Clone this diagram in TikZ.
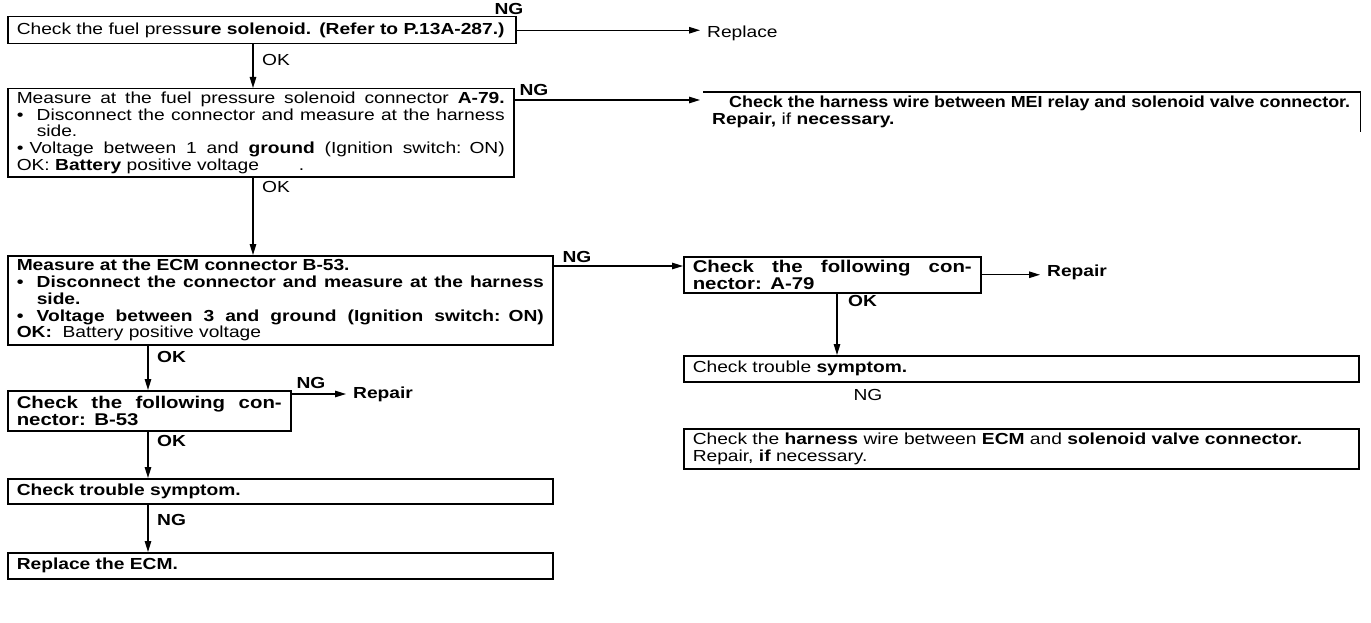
\documentclass[tikz,border=0pt]{standalone}
\usepackage{fontspec}
\setmainfont[FakeStretch=1.2]{Liberation Sans}
\usetikzlibrary{arrows.meta}
\newcommand\fs{\fontsize{16}{16.8}\selectfont}
\newcommand\fsb{\fontsize{17}{16.8}\selectfont}
\newcommand\jl[1]{\leavevmode\hbox to \hsize{\spaceskip=.3em plus 1fil\relax #1}}
\newcommand\bul{\makebox[20pt][l]{\textbullet}}
\newcommand\bulb{\makebox[13pt][l]{\textbullet}}
\begin{document}
\begin{tikzpicture}[x=1pt,y=-1pt,
  box/.style={draw, line width=1.5pt, anchor=north west, inner xsep=9pt, inner ysep=2pt, align=left, font=\fs},
  openbox/.style={anchor=north west, inner xsep=9pt, inner ysep=2pt, align=left, font=\fs},
  arr/.style={line width=1.3pt, -{Triangle[length=11pt,width=6.5pt]}},
  lbl/.style={font=\fs\bfseries, inner sep=0pt},
  lblr/.style={font=\fs, inner sep=0pt},
  txt/.style={font=\fs, inner sep=0pt, anchor=west}]
\useasboundingbox (0,0) rectangle (1371,623);
\fill[white] (0,0) rectangle (1371,623);

% left column
\node[box, text width=490pt, minimum height=27pt] (b1) at (7,16)
  {Check the fuel press\textbf{ure solenoid. (Refer to P.13A-287.)}};
\node[box, text width=488pt, minimum height=88pt] (b2) at (7,88)
  {\jl{Measure at the fuel pressure solenoid connector \textbf{A-79.}}\\
   \jl{\bul Disconnect the connector and measure at the harness}\\
   \hspace*{20pt}side.\\
   \jl{\bulb Voltage between 1 and \textbf{ground} (Ignition switch: ON)}\\
   OK: \textbf{Battery} positive voltage\hspace*{40pt}.};
\node[box, font=\fs\bfseries, text width=527pt, minimum height=89pt] (b3) at (7,255)
  {Measure at the ECM connector B-53.\\
   \jl{\bul Disconnect the connector and measure at the harness}\\
   \hspace*{20pt}side.\\
   \jl{\bul Voltage between 3 and ground (Ignition switch: ON)}\\
   OK:\ \ {\mdseries Battery positive voltage}};
\node[box, font=\fsb\bfseries, text width=265pt, minimum height=40pt] (b7) at (7,390)
  {\jl{Check the following con-}\\ nector: B-53};
\node[box, font=\fs\bfseries, text width=527pt, minimum height=25pt] (b8) at (7,478)
  {Check trouble symptom.};
\node[box, font=\fs\bfseries, text width=527pt, minimum height=26pt] (b9) at (7,552)
  {Replace the ECM.};

% right column
\node[txt] (rep1) at (707,33) {Replace};
\node[openbox, text width=639pt, minimum height=40pt] (r1) at (703,92)
  {\hspace*{17pt}\resizebox{621pt}{\height}{\bfseries Check the harness wire between MEI relay and solenoid valve connector.}\\
   \textbf{Repair,} if \textbf{necessary.}};
\draw[line width=1.5pt] (r1.north west) -- (r1.north east) -- (r1.south east);
\node[box, font=\fsb\bfseries, text width=279pt, minimum height=36pt] (b4) at (683,256)
  {\jl{Check the following con-}\\ nector: A-79};
\node[txt, font=\fs\bfseries] (rep2) at (1047,272) {Repair};
\node[box, text width=657pt, minimum height=26pt] (b5) at (683,355)
  {Check trouble \textbf{symptom.}};
\node[lblr] (ng5) at (868,395) {NG};
\node[box, text width=657pt, minimum height=40pt] (b6) at (683,428)
  {Check the \textbf{harness} wire between \textbf{ECM} and \textbf{solenoid valve connector.}\\
   Repair, \textbf{if} necessary.};
\node[txt, font=\fs\bfseries] (rep3) at (353,394) {Repair};

% coordinates for connector lines
\coordinate (xa) at (253,0);
\coordinate (xb) at (148,0);
\coordinate (xc) at (837,0);
\coordinate (y2) at (0,100);
\coordinate (y3) at (0,266);
\coordinate (y7) at (0,394);

% connectors
\draw[arr] (b1.east) -- ([xshift=-7pt]b1.east -| rep1.west);
\node[lbl] at (509,9) {NG};
\draw[arr] (b1.south -| xa) -- (b2.north -| xa);
\node[lblr, anchor=west] at (262,60) {OK};

\draw[arr] (b2.east |- y2) -- ([xshift=-3pt]r1.west |- y2);
\node[lbl] at (534,90) {NG};
\draw[arr] (b2.south -| xa) -- (b3.north -| xa);
\node[lblr, anchor=west] at (262,187) {OK};

\draw[arr] (b3.east |- y3) -- (b4.west |- y3);
\node[lbl] at (577,257) {NG};
\draw[arr] (b4.east) -- ([xshift=-7pt]b4.east -| rep2.west);
\draw[arr] (b4.south -| xc) -- (b5.north -| xc);
\node[lbl, anchor=west] at (848,301) {OK};

\draw[arr] (b3.south -| xb) -- (b7.north -| xb);
\node[lbl, anchor=west] at (157,357) {OK};
\draw[arr] (b7.east |- y7) -- ([xshift=-7pt]rep3.west |- y7);
\node[lbl] at (311,383) {NG};
\draw[arr] (b7.south -| xb) -- (b8.north -| xb);
\node[lbl, anchor=west] at (157,441) {OK};
\draw[arr] (b8.south -| xb) -- (b9.north -| xb);
\node[lbl, anchor=west] at (157,520) {NG};
\end{tikzpicture}
\end{document}
